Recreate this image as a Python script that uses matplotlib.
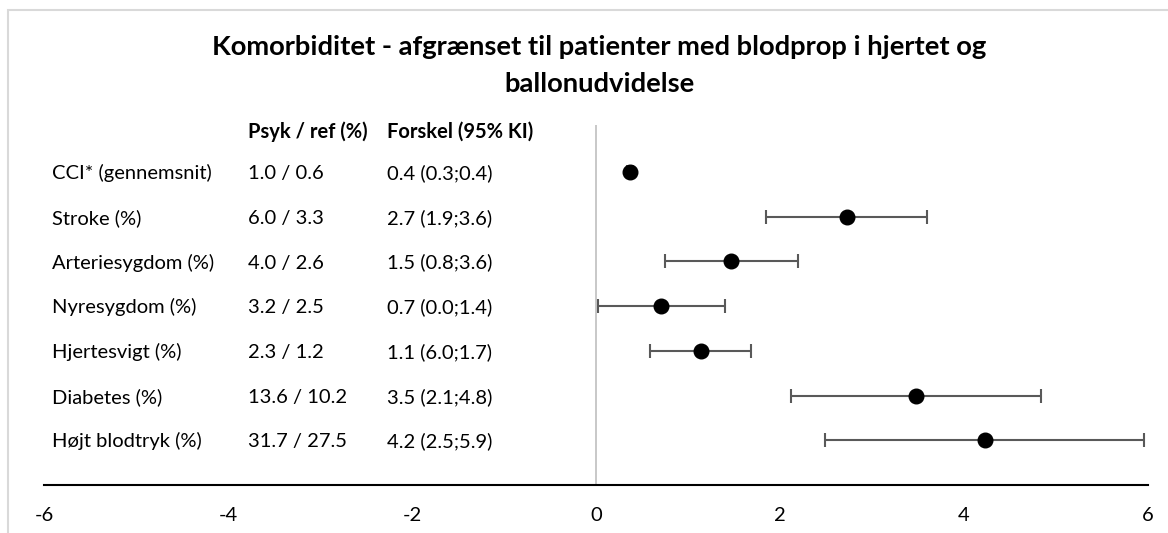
import matplotlib
matplotlib.use('Agg')
import matplotlib.pyplot as plt
from matplotlib.patches import Rectangle

plt.rcParams['font.family'] = ['Lato', 'DejaVu Sans']

# data
labels = ['CCI* (gennemsnit)', 'Stroke (%)', 'Arteriesygdom (%)', 'Nyresygdom (%)',
          'Hjertesvigt (%)', 'Diabetes (%)', 'Højt blodtryk (%)']
psyk_ref = ['1.0 / 0.6', '6.0 / 3.3', '4.0 / 2.6', '3.2 / 2.5',
            '2.3 / 1.2', '13.6 / 10.2', '31.7 / 27.5']
forskel_txt = ['0.4 (0.3;0.4)', '2.7 (1.9;3.6)', '1.5 (0.8;3.6)', '0.7 (0.0;1.4)',
               '1.1 (6.0;1.7)', '3.5 (2.1;4.8)', '4.2 (2.5;5.9)']
estimate = [0.37, 2.73, 1.47, 0.71, 1.14, 3.48, 4.23]
ci_low = [0.34, 1.85, 0.75, 0.02, 0.59, 2.12, 2.49]
ci_high = [0.40, 3.60, 2.20, 1.40, 1.69, 4.84, 5.96]
xticks = [-6, -4, -2, 0, 2, 4, 6]

n = len(labels)
ypos = [n - i for i in range(n)]

fig = plt.figure(figsize=(11.68, 5.33), dpi=100)
ax = fig.add_axes([44 / 1168, 1 - 485 / 533, 1104 / 1168, (485 - 125) / 533])

# chart border (Excel style)
fig.patches.append(Rectangle((8 / 1168, -0.1), 1.2, 1 - 10 / 533 + 0.1, transform=fig.transFigure,
                             fill=False, edgecolor='#d9d9d9', linewidth=1.5))

err_lo = [e - l for e, l in zip(estimate, ci_low)]
err_hi = [h - e for e, h in zip(estimate, ci_high)]
ax.errorbar(estimate, ypos, xerr=[err_lo, err_hi], fmt='o', color='black', markersize=10.5,
            ecolor='#595959', elinewidth=1.5, capsize=5, capthick=1.5, zorder=3)

ax.axvline(0, color='#bfbfbf', linewidth=1.2, zorder=1)

# table text (baseline a little below the row centre)
fs = 14.5
off = 0.16
for y, lab, pr, fk in zip(ypos, labels, psyk_ref, forskel_txt):
    ax.text(-5.91, y - off, lab, fontsize=fs, va='baseline', ha='left')
    ax.text(-3.78, y - off, pr, fontsize=fs, va='baseline', ha='left')
    ax.text(-2.27, y - off, fk, fontsize=fs, va='baseline', ha='left')
ax.text(-3.78, 7.92 - off, 'Psyk / ref (%)', fontsize=fs, fontweight='bold', va='baseline', ha='left')
ax.text(-2.27, 7.92 - off, 'Forskel (95% KI)', fontsize=fs, fontweight='bold', va='baseline', ha='left')

ax.set_xlim(-6, 6)
ax.set_ylim(0, 8.05)
ax.set_xticks(xticks)
ax.set_xticklabels([str(t) for t in xticks])
ax.set_yticks([])
ax.tick_params(axis='x', length=0, labelsize=14.5, pad=16)
for s in ['top', 'right', 'left']:
    ax.spines[s].set_visible(False)
ax.spines['bottom'].set_color('black')
ax.spines['bottom'].set_linewidth(1.5)

fig.text(0.513, 1 - 47 / 533, 'Komorbiditet - afgrænset til patienter med blodprop i hjertet og',
         fontsize=19.7, fontweight='bold', ha='center', va='center')
fig.text(0.513, 1 - 84 / 533, 'ballonudvidelse',
         fontsize=19.7, fontweight='bold', ha='center', va='center')

fig.savefig('out.png', dpi=100)
